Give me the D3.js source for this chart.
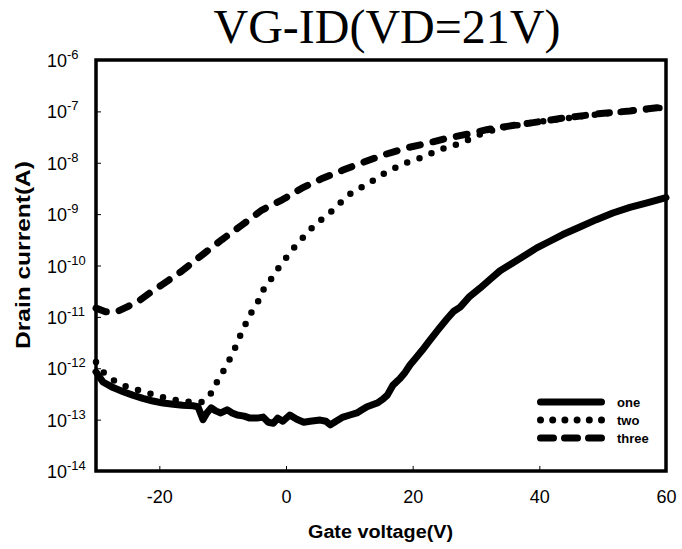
<!DOCTYPE html>
<html>
<head>
<meta charset="utf-8">
<script src="https://cdn.jsdelivr.net/npm/d3@7"></script>
<style>
  body { margin: 0; background: #fff; }
  text { font-family: Arial, "Liberation Sans", sans-serif; }
</style>
</head>
<body>
<div id="chart"></div>
<script>
const svgWidth = 682;
const svgHeight = 549;

// gate voltage (V) and drain current (A)
const oneVg = [-30, -28.9, -27.3, -25.7, -24.2, -22.6, -21.0, -19.4, -17.8, -16.3, -14.7, -13.9, -13.1, -12.5, -11.8, -11.1, -10.3, -9.3, -8.5, -7.7, -6.6, -5.7, -4.6, -3.6, -2.8, -2.0, -1.3, -0.5, 0.6, 1.7, 2.8, 3.8, 5.4, 6.3, 7.0, 7.9, 9.0, 10.1, 11.2, 12.0, 12.8, 14.4, 15.3, 16.0, 16.9, 18.0, 18.8, 19.6, 20.5, 21.5, 22.7, 24.0, 25.4, 26.5, 27.5, 29.0, 30.6, 32.4, 33.8, 35.8, 37.5, 39.6, 41.5, 43.7, 46.4, 49.0, 51.6, 54.3, 57.0, 60.0];
const oneId = [8.5e-13, 5.4e-13, 4.2e-13, 3.5e-13, 3.0e-13, 2.6e-13, 2.3e-13, 2.1e-13, 2.0e-13, 1.9e-13, 1.86e-13, 1.78e-13, 1.0e-13, 1.35e-13, 1.7e-13, 1.48e-13, 1.35e-13, 1.55e-13, 1.35e-13, 1.23e-13, 1.17e-13, 1.07e-13, 1.07e-13, 1.12e-13, 8.9e-14, 8.5e-14, 1.07e-13, 9.3e-14, 1.23e-13, 1.02e-13, 8.9e-14, 9.3e-14, 9.8e-14, 9.3e-14, 7.9e-14, 9.3e-14, 1.12e-13, 1.23e-13, 1.35e-13, 1.55e-13, 1.78e-13, 2.1e-13, 2.5e-13, 3.0e-13, 4.7e-13, 6.3e-13, 8.3e-13, 1.17e-12, 1.58e-12, 2.24e-12, 3.5e-12, 5.6e-12, 9.1e-12, 1.29e-11, 1.55e-11, 2.5e-11, 3.6e-11, 5.6e-11, 7.9e-11, 1.12e-10, 1.51e-10, 2.2e-10, 2.9e-10, 4.0e-10, 5.6e-10, 7.8e-10, 1.05e-9, 1.35e-9, 1.66e-9, 2.1e-9];

const twoVg = [-30, -28.9, -27.3, -25.4, -23.5, -21.9, -20.2, -18.3, -16.4, -14.7, -13.1, -11.5, -10.7, -9.6, -8.7, -7.9, -7.1, -6.3, -5.4, -4.4, -3.5, -2.2, -1.1, 0.2, 1.6, 3.2, 4.7, 6.5, 8.1, 9.7, 11.7, 13.6, 15.3, 17.2, 19.0, 20.7, 22.4, 24.0, 25.7, 27.8, 29.4, 31.1, 34.0, 38.5, 43.7, 49.1, 54.3, 60.0];
const twoId = [1.32e-12, 8.5e-13, 5.9e-13, 4.5e-13, 3.8e-13, 3.3e-13, 2.9e-13, 2.5e-13, 2.3e-13, 2.2e-13, 2.2e-13, 3.6e-13, 6.2e-13, 1.0e-12, 1.66e-12, 2.7e-12, 4.7e-12, 7.6e-12, 1.26e-11, 2.0e-11, 3.5e-11, 5.8e-11, 9.3e-11, 1.51e-10, 2.5e-10, 4.1e-10, 6.5e-10, 9.5e-10, 1.45e-9, 2.3e-9, 3.2e-9, 4.4e-9, 6.0e-9, 7.9e-9, 1.0e-8, 1.17e-8, 1.41e-8, 1.78e-8, 2.0e-8, 2.5e-8, 3.0e-8, 3.8e-8, 4.8e-8, 5.9e-8, 7.2e-8, 8.7e-8, 1.02e-7, 1.2e-7];

const threeVg = [-30, -28.5, -26.7, -25.0, -23.1, -21.4, -19.6, -16.7, -13.6, -10.1, -6.9, -3.8, -0.6, 2.5, 5.8, 9.0, 12.2, 15.3, 19.1, 22.3, 25.4, 28.6, 31.7, 33.3, 38.5, 43.7, 49.1, 54.3, 60.0];
const threeId = [1.48e-11, 1.26e-11, 1.26e-11, 1.58e-11, 2.1e-11, 3.0e-11, 4.2e-11, 7.4e-11, 1.48e-10, 3.2e-10, 6.2e-10, 1.2e-9, 1.9e-9, 3.2e-9, 5.0e-9, 7.2e-9, 1.02e-8, 1.41e-8, 1.95e-8, 2.4e-8, 3.0e-8, 3.6e-8, 4.4e-8, 4.8e-8, 5.9e-8, 7.4e-8, 8.9e-8, 1.02e-7, 1.23e-7];

const seriesNames = ["one", "two", "three"];
const xTicks = [-20, 0, 20, 40, 60];
const yExponents = [-14, -13, -12, -11, -10, -9, -8, -7, -6];

const svg = d3.select("#chart")
  .append("svg")
  .attr("width", svgWidth)
  .attr("height", svgHeight);

// plot box
const plotLeft = 96, plotRight = 666, plotTop = 60, plotBottom = 471;

const x = d3.scaleLinear().domain([-30, 60]).range([plotLeft, plotRight]);
const y = d3.scaleLog().domain([1e-14, 1e-6]).range([plotBottom, plotTop]);

// title
svg.append("text")
  .attr("x", 387)
  .attr("y", 43)
  .attr("text-anchor", "middle")
  .style("font-family", "'Liberation Serif', 'Times New Roman', serif")
  .style("font-size", "48px")
  .text("VG-ID(VD=21V)");

// x axis ticks (inward) + labels
const xAxis = d3.axisBottom(x)
  .tickValues(xTicks)
  .tickSizeInner(-5)
  .tickSizeOuter(0)
  .tickPadding(19)
  .tickFormat(d => String(d));

const gx = svg.append("g")
  .attr("transform", `translate(0,${plotBottom})`)
  .call(xAxis);
gx.select(".domain").remove();
gx.selectAll("line").attr("stroke", "#000").attr("stroke-width", 1);
gx.selectAll("text")
  .style("font-family", "Arial, 'Liberation Sans', sans-serif")
  .style("font-size", "18px")
  .attr("fill", "#000");
gx.selectAll(".tick").filter(d => d === 60).select("line").remove();

// y axis ticks (inward)
const yAxis = d3.axisLeft(y)
  .tickValues(yExponents.map(e => Math.pow(10, e)))
  .tickSizeInner(-5)
  .tickSizeOuter(0)
  .tickFormat("");

const gy = svg.append("g")
  .attr("transform", `translate(${plotLeft},0)`)
  .call(yAxis);
gy.select(".domain").remove();
gy.selectAll("line").attr("stroke", "#000").attr("stroke-width", 1);

// y tick labels with superscript exponents
const yl = svg.append("g").selectAll("text")
  .data(yExponents)
  .enter()
  .append("text")
  .attr("x", 47)
  .attr("y", d => y(Math.pow(10, d)) + 7)
  .style("font-size", "18px");
yl.append("tspan").text("10");
yl.append("tspan")
  .attr("dy", -8)
  .style("font-size", "13px")
  .text(d => "-" + Math.abs(d));

// frame
svg.append("rect")
  .attr("x", plotLeft)
  .attr("y", plotTop)
  .attr("width", plotRight - plotLeft)
  .attr("height", plotBottom - plotTop)
  .attr("fill", "none")
  .attr("stroke", "#000")
  .attr("stroke-width", 3.5);

// axis titles
svg.append("text")
  .attr("x", 380.5)
  .attr("y", 538)
  .attr("text-anchor", "middle")
  .attr("textLength", 145)
  .attr("lengthAdjust", "spacingAndGlyphs")
  .style("font-size", "18px")
  .style("font-weight", "bold")
  .text("Gate voltage(V)");

svg.append("text")
  .attr("transform", "translate(30,255) rotate(-90)")
  .attr("text-anchor", "middle")
  .attr("textLength", 188)
  .attr("lengthAdjust", "spacingAndGlyphs")
  .style("font-size", "20px")
  .style("font-weight", "bold")
  .text("Drain current(A)");

// curves
const line = d3.line()
  .x(d => x(d[0]))
  .y(d => y(d[1]));

const styles = {
  one:   {width: 7,   dash: null,    cap: "round"},
  two:   {width: 6.5, dash: "0 13",  cap: "round"},
  three: {width: 7,   dash: "11 13", cap: "round"}
};

const seriesData = {
  one: d3.zip(oneVg, oneId),
  two: d3.zip(twoVg, twoId),
  three: d3.zip(threeVg, threeId)
};

seriesNames.forEach(name => {
  const s = styles[name];
  svg.append("path")
    .datum(seriesData[name])
    .attr("d", line)
    .attr("fill", "none")
    .attr("stroke", "#000")
    .attr("stroke-width", s.width)
    .attr("stroke-linecap", s.cap)
    .attr("stroke-linejoin", "round")
    .attr("stroke-dasharray", s.dash);
});

// legend
const legendDash = {one: null, two: "0 12.2", three: "13 11"};
const legend = svg.append("g");
seriesNames.forEach((name, i) => {
  const ly = 402 + i * 18;
  legend.append("line")
    .attr("x1", 540.5)
    .attr("x2", 601.5)
    .attr("y1", ly)
    .attr("y2", ly)
    .attr("stroke", "#000")
    .attr("stroke-width", 7)
    .attr("stroke-linecap", "round")
    .attr("stroke-dasharray", legendDash[name]);
  legend.append("text")
    .attr("x", 617)
    .attr("y", ly + 5)
    .style("font-size", "13px")
    .style("font-weight", "bold")
    .text(name);
});
</script>
</body>
</html>
